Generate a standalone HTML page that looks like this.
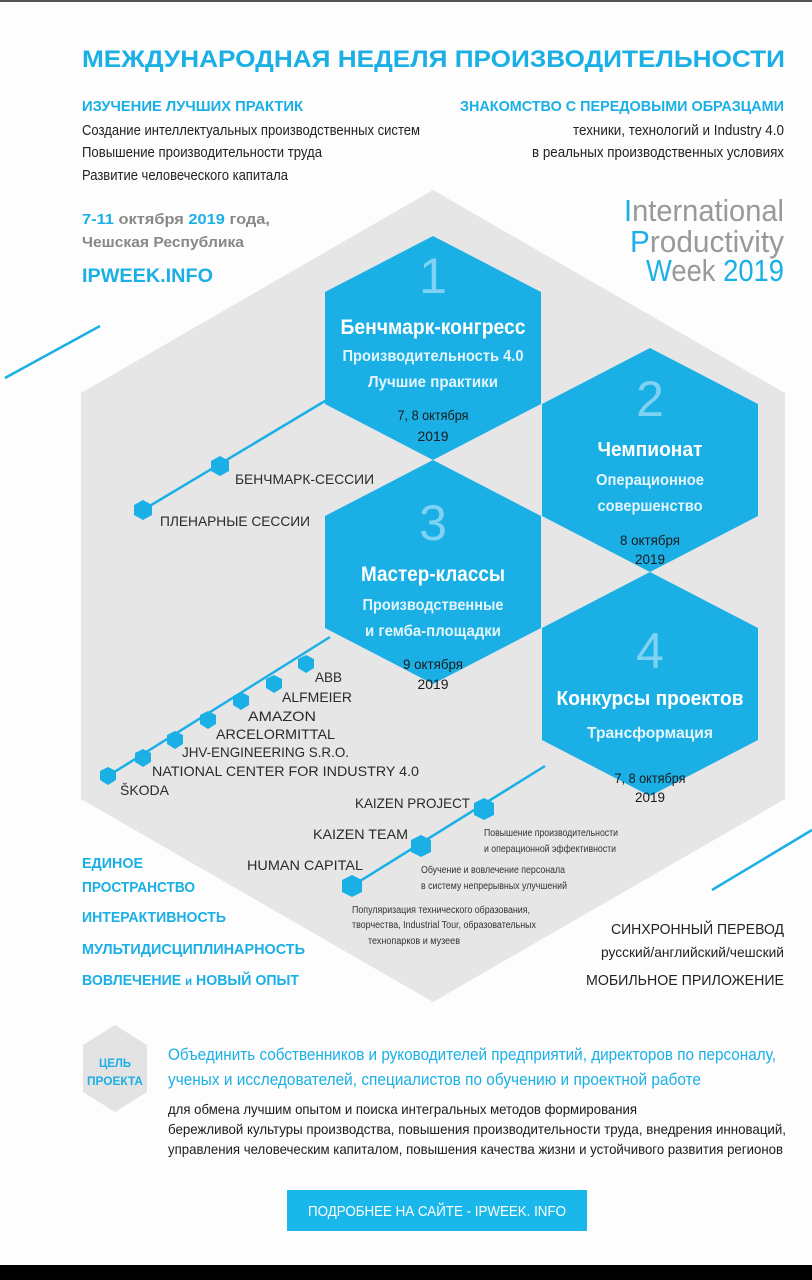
<!DOCTYPE html>
<html><head><meta charset="utf-8"><style>
html,body{margin:0;padding:0;background:#fdfdfd;}
svg{display:block;}
text{font-family:"Liberation Sans","Noto Sans CJK SC",sans-serif;}
</style></head><body>
<svg width="812" height="1280" viewBox="0 0 812 1280" xmlns="http://www.w3.org/2000/svg">
<rect x="0" y="0" width="812" height="1280" fill="#fdfdfd"/>
<rect x="0" y="0" width="812" height="2" fill="#555"/>
<rect x="0" y="1265" width="812" height="15" fill="#000"/>

<!-- big gray hex -->
<polygon points="433,190 785,393 785,799 433,1002 81,799 81,393" fill="#e6e6e6"/>

<!-- decorative lines -->
<line x1="5" y1="378" x2="100" y2="326" stroke="#1ab0e6" stroke-width="2.5"/>
<line x1="712" y1="890" x2="812" y2="830" stroke="#1ab0e6" stroke-width="2.5"/>

<!-- connector lines -->
<g stroke="#1ab0e6" stroke-width="2.5">
<line x1="330" y1="398" x2="143" y2="510"/>
<line x1="330" y1="637" x2="108" y2="776"/>
<line x1="545" y1="766" x2="352" y2="886"/>
</g>

<!-- blue hexes -->
<g fill="#1ab0e6">
<polygon points="433,236 541,292 541,404 433,460 325,404 325,292"/>
<polygon points="433,460 541,516 541,628 433,684 325,628 325,516"/>
<polygon points="650,348 758,404 758,516 650,572 542,516 542,404"/>
<polygon points="650,572 758,628 758,740 650,796 542,740 542,628"/>
</g>

<!-- small nodes -->
<g fill="#1ab0e6">
<polygon points="220,456 229,461 229,471 220,476 211,471 211,461"/>
<polygon points="143,500 152,505 152,515 143,520 134,515 134,505"/>
<polygon points="306,655 314,659 314,668 306,673 298,668 298,659"/>
<polygon points="274,675 282,679 282,688 274,693 266,688 266,679"/>
<polygon points="241,692 249,696 249,705 241,710 233,705 233,696"/>
<polygon points="208,711 216,715 216,724 208,729 200,724 200,715"/>
<polygon points="175,731 183,735 183,744 175,749 167,744 167,735"/>
<polygon points="143,749 151,753 151,762 143,767 135,762 135,753"/>
<polygon points="108,767 116,771 116,780 108,785 100,780 100,771"/>
<polygon points="484,798 494,803 494,815 484,820 474,815 474,803"/>
<polygon points="421,835 431,840 431,852 421,857 411,852 411,840"/>
<polygon points="352,875 362,880 362,892 352,897 342,892 342,880"/>
</g>

<!-- header -->
<text x="82" y="67" font-size="24" font-weight="bold" fill="#1ab0e6" textLength="703" lengthAdjust="spacingAndGlyphs">МЕЖДУНАРОДНАЯ НЕДЕЛЯ ПРОИЗВОДИТЕЛЬНОСТИ</text>
<text x="82" y="111" font-size="15" font-weight="bold" fill="#1ab0e6" textLength="221" lengthAdjust="spacingAndGlyphs">ИЗУЧЕНИЕ ЛУЧШИХ ПРАКТИК</text>
<text x="460" y="111" font-size="15" font-weight="bold" fill="#1ab0e6" textLength="324" lengthAdjust="spacingAndGlyphs">ЗНАКОМСТВО С ПЕРЕДОВЫМИ ОБРАЗЦАМИ</text>
<g font-size="15" fill="#222">
<text x="82" y="135" textLength="338" lengthAdjust="spacingAndGlyphs">Создание интеллектуальных производственных систем</text>
<text x="82" y="157" textLength="240" lengthAdjust="spacingAndGlyphs">Повышение производительности труда</text>
<text x="82" y="180" textLength="206" lengthAdjust="spacingAndGlyphs">Развитие человеческого капитала</text>
<text x="573" y="135" textLength="211" lengthAdjust="spacingAndGlyphs">техники, технологий и Industry 4.0</text>
<text x="532" y="157" textLength="252" lengthAdjust="spacingAndGlyphs">в реальных производственных  условиях</text>
</g>
<text x="82" y="224" font-size="15" font-weight="bold" fill="#888" textLength="188" lengthAdjust="spacingAndGlyphs"><tspan fill="#1ab0e6">7-11</tspan> октября <tspan fill="#1ab0e6">2019</tspan> года,</text>
<text x="82" y="247" font-size="15" font-weight="bold" fill="#888" textLength="162" lengthAdjust="spacingAndGlyphs">Чешская  Республика</text>
<text x="82" y="282" font-size="19" font-weight="bold" fill="#1ab0e6" textLength="131" lengthAdjust="spacingAndGlyphs">IPWEEK.INFO</text>
<g font-size="31" fill="#999">
<text x="624" y="221" textLength="160" lengthAdjust="spacingAndGlyphs"><tspan fill="#1ab0e6">I</tspan>nternational</text>
<text x="630" y="252" textLength="154" lengthAdjust="spacingAndGlyphs"><tspan fill="#1ab0e6">P</tspan>roductivity</text>
<text x="646" y="281" textLength="138" lengthAdjust="spacingAndGlyphs"><tspan fill="#1ab0e6">W</tspan>eek <tspan fill="#1ab0e6">2019</tspan></text>
</g>

<!-- digits -->
<g font-size="50" fill="#80d2f2" text-anchor="middle">
<text x="433" y="293">1</text>
<text x="650" y="416">2</text>
<text x="433" y="540">3</text>
<text x="650" y="668">4</text>
</g>

<!-- hex texts -->
<g text-anchor="middle">
<text x="433" y="334" font-size="21" font-weight="bold" fill="#fff" textLength="185" lengthAdjust="spacingAndGlyphs">Бенчмарк-конгресс</text>
<text x="433" y="361" font-size="16" font-weight="bold" fill="#e2f5fc" textLength="181" lengthAdjust="spacingAndGlyphs">Производительность 4.0</text>
<text x="433" y="387" font-size="16" font-weight="bold" fill="#e2f5fc" textLength="130" lengthAdjust="spacingAndGlyphs">Лучшие практики</text>
<text x="433" y="420" font-size="14" fill="#1a1a1a" textLength="71" lengthAdjust="spacingAndGlyphs">7, 8 октября</text>
<text x="433" y="441" font-size="14" fill="#1a1a1a" textLength="31" lengthAdjust="spacingAndGlyphs">2019</text>

<text x="650" y="456" font-size="20" font-weight="bold" fill="#fff" textLength="105" lengthAdjust="spacingAndGlyphs">Чемпионат</text>
<text x="650" y="485" font-size="16" font-weight="bold" fill="#e2f5fc" textLength="108" lengthAdjust="spacingAndGlyphs">Операционное</text>
<text x="650" y="511" font-size="16" font-weight="bold" fill="#e2f5fc" textLength="105" lengthAdjust="spacingAndGlyphs">совершенство</text>
<text x="650" y="545" font-size="14" fill="#1a1a1a" textLength="60" lengthAdjust="spacingAndGlyphs">8 октября</text>
<text x="650" y="564" font-size="14" fill="#1a1a1a" textLength="30" lengthAdjust="spacingAndGlyphs">2019</text>

<text x="433" y="581" font-size="21" font-weight="bold" fill="#fff" textLength="144" lengthAdjust="spacingAndGlyphs">Мастер-классы</text>
<text x="433" y="610" font-size="16" font-weight="bold" fill="#e2f5fc" textLength="141" lengthAdjust="spacingAndGlyphs">Производственные</text>
<text x="433" y="636" font-size="16" font-weight="bold" fill="#e2f5fc" textLength="136" lengthAdjust="spacingAndGlyphs">и гемба-площадки</text>
<text x="433" y="669" font-size="14" fill="#1a1a1a" textLength="60" lengthAdjust="spacingAndGlyphs">9 октября</text>
<text x="433" y="689" font-size="14" fill="#1a1a1a" textLength="31" lengthAdjust="spacingAndGlyphs">2019</text>

<text x="650" y="705" font-size="20" font-weight="bold" fill="#fff" textLength="187" lengthAdjust="spacingAndGlyphs">Конкурсы проектов</text>
<text x="650" y="738" font-size="16" font-weight="bold" fill="#e2f5fc" textLength="126" lengthAdjust="spacingAndGlyphs">Трансформация</text>
<text x="650" y="783" font-size="14" fill="#1a1a1a" textLength="71" lengthAdjust="spacingAndGlyphs">7, 8 октября</text>
<text x="650" y="802" font-size="14" fill="#1a1a1a" textLength="30" lengthAdjust="spacingAndGlyphs">2019</text>
</g>

<!-- chain labels -->
<g font-size="14" fill="#2a2a2a">
<text x="235" y="484" textLength="139" lengthAdjust="spacingAndGlyphs">БЕНЧМАРК-СЕССИИ</text>
<text x="160" y="526" textLength="150" lengthAdjust="spacingAndGlyphs">ПЛЕНАРНЫЕ СЕССИИ</text>
<text x="315" y="682" textLength="27" lengthAdjust="spacingAndGlyphs">ABB</text>
<text x="282" y="702" textLength="70" lengthAdjust="spacingAndGlyphs">ALFMEIER</text>
<text x="248" y="721" textLength="68" lengthAdjust="spacingAndGlyphs">AMAZON</text>
<text x="216" y="739" textLength="119" lengthAdjust="spacingAndGlyphs">ARCELORMITTAL</text>
<text x="182" y="757" textLength="167" lengthAdjust="spacingAndGlyphs">JHV-ENGINEERING S.R.O.</text>
<text x="152" y="776" textLength="267" lengthAdjust="spacingAndGlyphs">NATIONAL CENTER FOR INDUSTRY 4.0</text>
<text x="120" y="795" textLength="49" lengthAdjust="spacingAndGlyphs">ŠKODA</text>
<text x="355" y="808" textLength="115" lengthAdjust="spacingAndGlyphs">KAIZEN PROJECT</text>
<text x="313" y="839" textLength="95" lengthAdjust="spacingAndGlyphs">KAIZEN TEAM</text>
<text x="247" y="870" textLength="116" lengthAdjust="spacingAndGlyphs">HUMAN CAPITAL</text>
</g>
<g font-size="10" fill="#333">
<text x="484" y="836" textLength="134" lengthAdjust="spacingAndGlyphs">Повышение производительности</text>
<text x="484" y="852" textLength="132" lengthAdjust="spacingAndGlyphs">и операционной эффективности</text>
<text x="421" y="873" textLength="144" lengthAdjust="spacingAndGlyphs">Обучение и вовлечение персонала</text>
<text x="421" y="889" textLength="146" lengthAdjust="spacingAndGlyphs">в систему непрерывных улучшений</text>
<text x="352" y="913" textLength="178" lengthAdjust="spacingAndGlyphs">Популяризация технического образования,</text>
<text x="352" y="928" textLength="184" lengthAdjust="spacingAndGlyphs">творчества,  Industrial Tour, образовательных</text>
<text x="368" y="944" textLength="92" lengthAdjust="spacingAndGlyphs">технопарков и музеев</text>
</g>

<!-- left blue list -->
<g font-size="15" font-weight="bold" fill="#1ab0e6">
<text x="82" y="868" textLength="61" lengthAdjust="spacingAndGlyphs">ЕДИНОЕ</text>
<text x="82" y="892" textLength="113" lengthAdjust="spacingAndGlyphs">ПРОСТРАНСТВО</text>
<text x="82" y="922" textLength="144" lengthAdjust="spacingAndGlyphs">ИНТЕРАКТИВНОСТЬ</text>
<text x="82" y="954" textLength="223" lengthAdjust="spacingAndGlyphs">МУЛЬТИДИСЦИПЛИНАРНОСТЬ</text>
<text x="82" y="985" textLength="217" lengthAdjust="spacingAndGlyphs">ВОВЛЕЧЕНИЕ <tspan font-size="12">и</tspan> НОВЫЙ ОПЫТ</text>
</g>
<g font-size="15" fill="#222" text-anchor="end">
<text x="784" y="934" textLength="173" lengthAdjust="spacingAndGlyphs">СИНХРОННЫЙ ПЕРЕВОД</text>
<text x="784" y="957" font-size="14" textLength="183" lengthAdjust="spacingAndGlyphs">русский/английский/чешский</text>
<text x="784" y="985" textLength="198" lengthAdjust="spacingAndGlyphs">МОБИЛЬНОЕ ПРИЛОЖЕНИЕ</text>
</g>

<!-- goal -->
<polygon points="115,1025 147,1045 147,1092 115,1112 83,1092 83,1045" fill="#e3e3e3"/>
<g font-size="12" font-weight="bold" fill="#1ab0e6" text-anchor="middle">
<text x="115" y="1067" textLength="32" lengthAdjust="spacingAndGlyphs">ЦЕЛЬ</text>
<text x="115" y="1085" textLength="56" lengthAdjust="spacingAndGlyphs">ПРОЕКТА</text>
</g>
<g font-size="17" fill="#1ab0e6">
<text x="168" y="1060" textLength="608" lengthAdjust="spacingAndGlyphs">Объединить собственников и руководителей предприятий, директоров по персоналу,</text>
<text x="168" y="1085" textLength="533" lengthAdjust="spacingAndGlyphs">ученых и исследователей,  специалистов по обучению и проектной работе</text>
</g>
<g font-size="14" fill="#1a1a1a">
<text x="168" y="1114" textLength="469" lengthAdjust="spacingAndGlyphs">для обмена лучшим опытом и поиска интегральных методов формирования</text>
<text x="168" y="1134" textLength="618" lengthAdjust="spacingAndGlyphs">бережливой культуры производства,  повышения производительности труда,  внедрения инноваций,</text>
<text x="168" y="1154" textLength="615" lengthAdjust="spacingAndGlyphs">управления человеческим капиталом, повышения качества жизни и устойчивого развития регионов</text>
</g>
<rect x="287" y="1190" width="300" height="41" fill="#1ab8ea"/>
<text x="437" y="1216" font-size="15" fill="#fff" text-anchor="middle" textLength="258" lengthAdjust="spacingAndGlyphs">ПОДРОБНЕЕ НА САЙТЕ - IPWEEK. INFO</text>
</svg>
</body></html>
